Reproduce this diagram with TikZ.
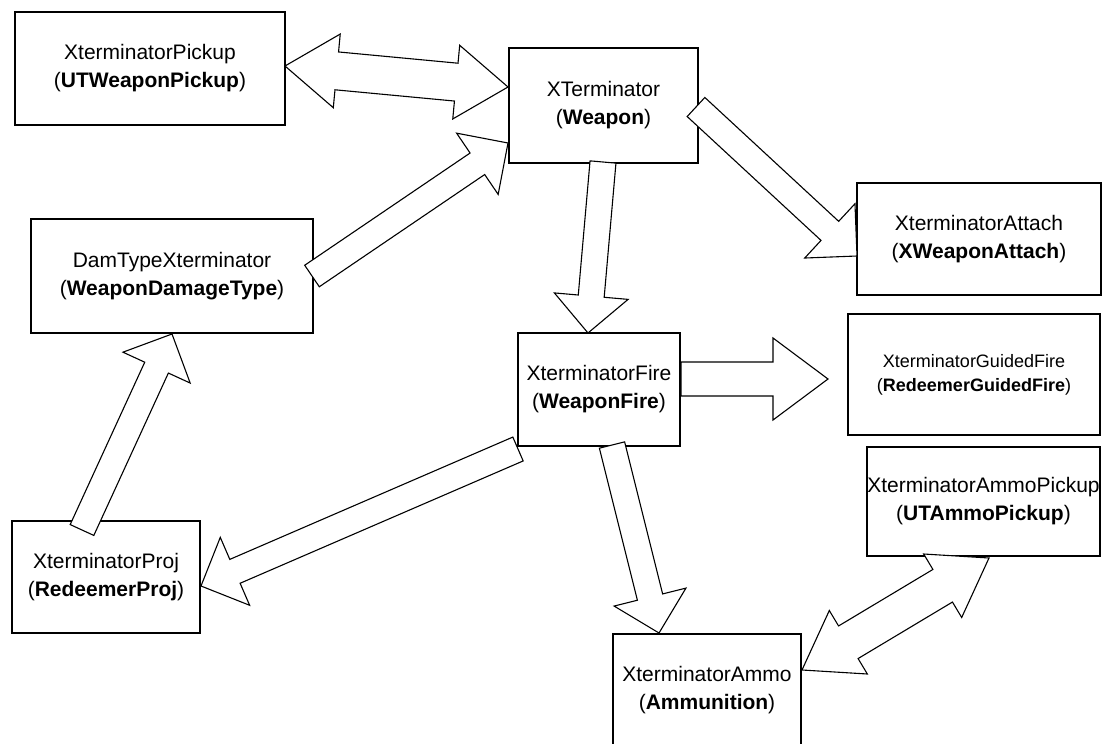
\documentclass[tikz,border=0pt]{standalone}
\usepackage{fontspec}
\setmainfont{Liberation Sans}
\usetikzlibrary{calc}
\tikzset{
  box/.style={draw, line width=1.2pt, fill=white, inner sep=0pt, align=center,
    font=\fontsize{21}{28}\selectfont},
  blk/.style={draw, line width=1.1pt, fill=white, line join=miter}
}
\newcommand\sarrow[5]{%
  \coordinate (hb) at ($(#2)!#4!(#1)$);
  \draw[blk] ($(#1)!#3!90:(#2)$) -- ($(hb)!#3!90:(#2)$) -- ($(hb)!#5!90:(#2)$) -- (#2)
    -- ($(hb)!#5!-90:(#2)$) -- ($(hb)!#3!-90:(#2)$) -- ($(#1)!#3!-90:(#2)$) -- cycle;}
\newcommand\darrow[5]{%
  \coordinate (ha) at ($(#1)!#4!(#2)$);
  \coordinate (hb) at ($(#2)!#4!(#1)$);
  \draw[blk] (#1) -- ($(ha)!#5!90:(#2)$) -- ($(ha)!#3!90:(#2)$) -- ($(hb)!#3!90:(#2)$)
    -- ($(hb)!#5!90:(#2)$) -- (#2) -- ($(hb)!#5!-90:(#2)$) -- ($(hb)!#3!-90:(#2)$)
    -- ($(ha)!#3!-90:(#2)$) -- ($(ha)!#5!-90:(#2)$) -- cycle;}
\begin{document}
\begin{tikzpicture}[x=1pt,y=-1pt]
\useasboundingbox (0,0) rectangle (1104,744);
\clip (0,0) rectangle (1104,744);
\fill[white] (0,0) rectangle (1104,744);
% boxes
\node[box, minimum width=270pt, minimum height=113pt] (pick) at (150,68.5)
  {XterminatorPickup\\(\textbf{UTWeaponPickup})};
\node[box, minimum width=189pt, minimum height=115pt] (weap) at (603.5,105.5)
  {XTerminator\\(\textbf{Weapon})};
\node[box, minimum width=244pt, minimum height=112pt] (att) at (979,239)
  {XterminatorAttach\\(\textbf{XWeaponAttach})};
\node[box, minimum width=282pt, minimum height=114pt] (dam) at (172,276)
  {DamTypeXterminator\\(\textbf{WeaponDamageType})};
\node[box, minimum width=162pt, minimum height=113pt] (fire) at (599,389.5)
  {XterminatorFire\\(\textbf{WeaponFire})};
\node[box, minimum width=252pt, minimum height=121pt, font=\fontsize{18}{24}\selectfont] (gfire) at (974,374.5)
  {XterminatorGuidedFire\\(\textbf{RedeemerGuidedFire})};
\node[box, minimum width=233pt, minimum height=109pt] (apick) at (983.5,501.5)
  {XterminatorAmmoPickup\\(\textbf{UTAmmoPickup})};
\node[box, minimum width=188pt, minimum height=112pt] (proj) at (106,577)
  {XterminatorProj\\(\textbf{RedeemerProj})};
\node[box, minimum width=188pt, minimum height=113pt] (ammo) at (707,690.5)
  {XterminatorAmmo\\(\textbf{Ammunition})};
% arrow end points
\coordinate (a1) at (285,66);   \coordinate (a2) at (508,87);
\coordinate (b1) at (312,276);  \coordinate (b2) at (508,143);
\coordinate (c1) at (603,162);  \coordinate (c2) at (588,333);
\coordinate (d1) at (696,107);  \coordinate (d2) at (857,256);
\coordinate (e1) at (681,379);  \coordinate (e2) at (828,379);
\coordinate (f1) at (518,449);  \coordinate (f2) at (201,586);
\coordinate (g1) at (82,530);   \coordinate (g2) at (172,334);
\coordinate (h1) at (612,445);  \coordinate (h2) at (659,633);
\coordinate (i1) at (802,670);  \coordinate (i2) at (989,558);
% arrows
\darrow{a1}{a2}{19pt}{52pt}{37pt}
\sarrow{b1}{b2}{13pt}{37pt}{37pt}
\sarrow{c1}{c2}{13pt}{37pt}{37pt}
\sarrow{d1}{d2}{13pt}{37pt}{37pt}
\sarrow{e1}{e2}{17pt}{55pt}{41pt}
\sarrow{f1}{f2}{13pt}{37pt}{37pt}
\sarrow{g1}{g2}{13pt}{37pt}{37pt}
\sarrow{h1}{h2}{13pt}{37pt}{37pt}
\darrow{i1}{i2}{19pt}{54pt}{37pt}
\end{tikzpicture}
\end{document}
